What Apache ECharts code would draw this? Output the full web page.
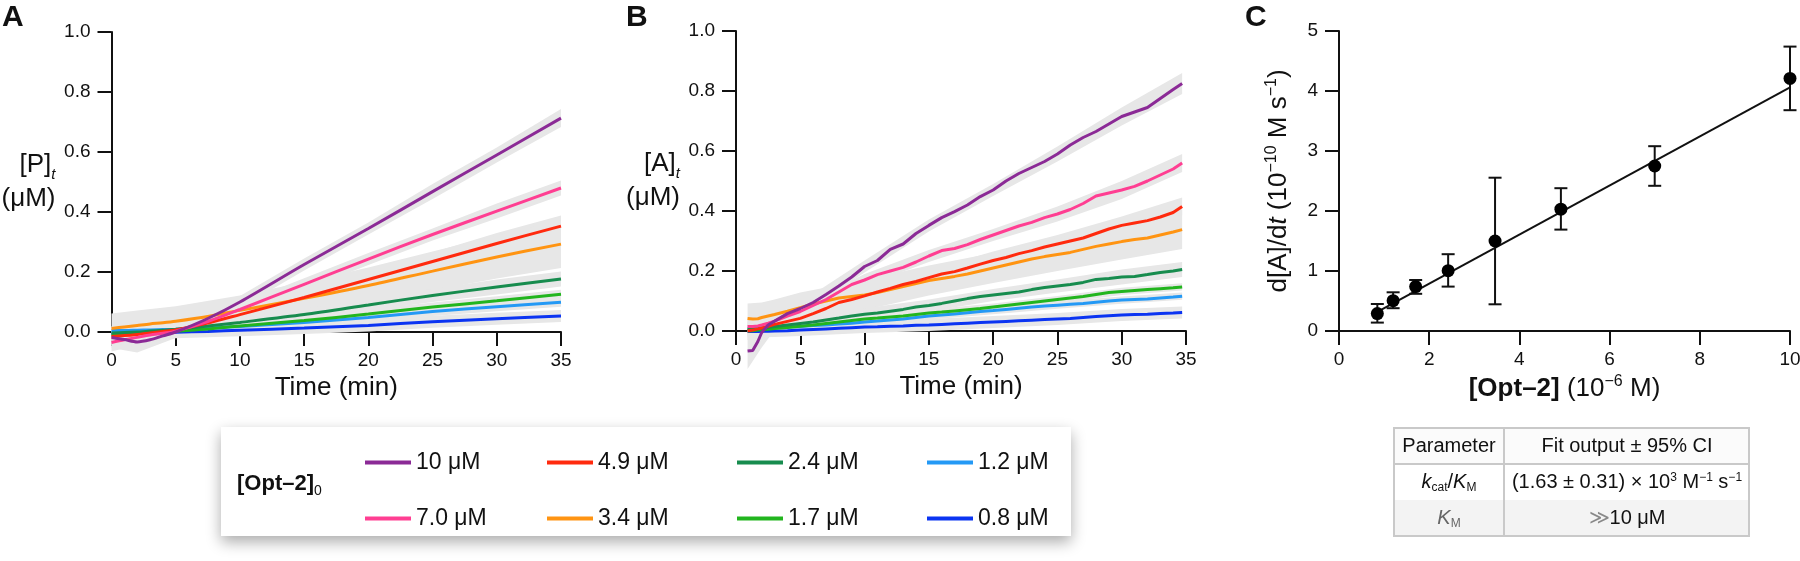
<!DOCTYPE html>
<html><head><meta charset="utf-8">
<script src="https://cdn.jsdelivr.net/npm/echarts@6/dist/echarts.min.js"></script>
<style>html,body{margin:0;padding:0;background:#fff}#c{width:1800px;height:561px}</style>
</head><body><div id="c"></div>
<script>
// ---------- categories / legend ----------
const seriesNames  = ['10 μM','7.0 μM','4.9 μM','3.4 μM','2.4 μM','1.7 μM','1.2 μM','0.8 μM'];
const seriesColors = ['#8B2A96','#FF3E92','#FF2A0E','#FF9412','#178C4E','#22B51E','#2499F5','#0B34F2'];

// ---------- Panel A: [P]t vs time ----------
const tA = [0,1,2,3,4,5,7.5,10,15,20,25,30,35];
const A_10  = [-0.018,-0.025,-0.033,-0.026,-0.013,0.0,0.045,0.10,0.225,0.345,0.468,0.59,0.713];
const A_7_0 = [-0.035,-0.026,-0.018,-0.01,-0.004,0.003,0.035,0.075,0.159,0.243,0.325,0.403,0.48];
const A_4_9 = [-0.015,-0.012,-0.008,-0.003,0.002,0.007,0.03,0.058,0.115,0.175,0.235,0.295,0.353];
const A_3_4 = [0.012,0.017,0.022,0.027,0.031,0.036,0.052,0.072,0.112,0.155,0.203,0.25,0.293];
const A_2_4 = [-0.003,-0.002,0.0,0.003,0.006,0.009,0.02,0.032,0.058,0.09,0.122,0.15,0.177];
const A_1_7 = [-0.01,-0.008,-0.005,-0.002,0.0,0.003,0.01,0.02,0.038,0.06,0.083,0.104,0.126];
const A_1_2 = [0.005,0.005,0.006,0.007,0.008,0.009,0.013,0.018,0.032,0.048,0.068,0.084,0.099];
const A_0_8 = [-0.004,-0.004,-0.003,-0.003,-0.002,-0.001,0.002,0.006,0.013,0.022,0.034,0.044,0.053];
// confidence band half-widths (at band times)
const tA_band = [0,2,5,10,15,20,25,30,35];
const A_ci_10  = [0.035,0.035,0.02,0.02,0.02,0.02,0.025,0.025,0.03];
const A_ci_7_0 = [0.03,0.025,0.02,0.02,0.02,0.02,0.02,0.025,0.025];
const A_ci_4_9 = [0.03,0.03,0.025,0.025,0.025,0.03,0.03,0.035,0.035];
const A_ci_3_4 = [0.05,0.05,0.05,0.05,0.055,0.06,0.065,0.072,0.08];
const A_ci_2_4 = [0.02,0.02,0.02,0.02,0.02,0.02,0.022,0.025,0.025];
const A_ci_1_7 = [0.015,0.015,0.015,0.015,0.015,0.015,0.015,0.015,0.015];
const A_ci_1_2 = [0.015,0.015,0.015,0.015,0.015,0.015,0.015,0.015,0.015];
const A_ci_0_8 = [0.02,0.02,0.02,0.02,0.02,0.02,0.02,0.02,0.02];

// ---------- Panel B: [A]t vs time ----------
const tB = [0.9,1.3,1.7,2,2.5,3,4,5,6,7,8,9,10,11,12,13,14,15,16,17,18,19,20,21,22,23,24,25,26,27,28,29,30,31,32,33,34,34.7];
const B_10  = [-0.067,-0.065,-0.035,-0.005,0.02,0.033,0.058,0.075,0.095,0.122,0.15,0.18,0.215,0.235,0.272,0.29,0.325,0.352,0.378,0.398,0.42,0.448,0.47,0.5,0.525,0.545,0.565,0.59,0.62,0.645,0.665,0.69,0.715,0.73,0.745,0.775,0.805,0.825];
const B_7_0 = [0.015,0.015,0.017,0.02,0.026,0.033,0.05,0.065,0.085,0.105,0.13,0.155,0.17,0.188,0.2,0.212,0.23,0.25,0.268,0.275,0.288,0.305,0.32,0.335,0.35,0.362,0.378,0.39,0.405,0.425,0.45,0.46,0.47,0.482,0.5,0.52,0.54,0.56];
const B_4_9 = [0.0,0.003,0.007,0.01,0.016,0.022,0.032,0.042,0.058,0.075,0.095,0.105,0.117,0.13,0.142,0.155,0.165,0.178,0.19,0.198,0.21,0.223,0.235,0.245,0.258,0.268,0.28,0.29,0.3,0.31,0.325,0.34,0.352,0.36,0.368,0.38,0.395,0.415];
const B_3_4 = [0.042,0.04,0.041,0.045,0.05,0.055,0.066,0.078,0.09,0.1,0.11,0.115,0.12,0.128,0.138,0.148,0.158,0.168,0.175,0.182,0.19,0.2,0.21,0.22,0.23,0.24,0.248,0.255,0.262,0.272,0.282,0.29,0.298,0.305,0.31,0.32,0.33,0.338];
const B_2_4 = [0.005,0.006,0.008,0.01,0.012,0.015,0.02,0.025,0.03,0.037,0.043,0.05,0.056,0.06,0.066,0.072,0.08,0.085,0.092,0.1,0.108,0.115,0.12,0.125,0.13,0.138,0.145,0.15,0.155,0.162,0.172,0.175,0.18,0.182,0.188,0.195,0.2,0.205];
const B_1_7 = [0.0,0.001,0.003,0.004,0.006,0.008,0.012,0.016,0.02,0.025,0.03,0.035,0.04,0.043,0.047,0.05,0.055,0.06,0.063,0.067,0.071,0.075,0.08,0.085,0.09,0.095,0.1,0.105,0.11,0.115,0.122,0.128,0.132,0.135,0.138,0.141,0.144,0.147];
const B_1_2 = [0.008,0.008,0.008,0.009,0.01,0.011,0.013,0.015,0.018,0.02,0.023,0.026,0.03,0.033,0.037,0.04,0.045,0.05,0.053,0.057,0.061,0.065,0.068,0.072,0.076,0.08,0.083,0.086,0.089,0.092,0.096,0.1,0.103,0.105,0.107,0.11,0.113,0.116];
const B_0_8 = [-0.002,-0.002,-0.002,-0.001,-0.001,0.0,0.001,0.003,0.005,0.007,0.009,0.011,0.013,0.014,0.016,0.017,0.019,0.02,0.022,0.024,0.026,0.028,0.03,0.032,0.034,0.036,0.038,0.04,0.042,0.045,0.048,0.051,0.053,0.055,0.056,0.058,0.06,0.062];
const tB_band = [0.9,2,3,5,10,15,20,25,30,34.7];
const B_ci_10  = [0.06,0.05,0.03,0.02,0.02,0.02,0.02,0.025,0.03,0.035];
const B_ci_7_0 = [0.03,0.025,0.02,0.02,0.02,0.02,0.02,0.025,0.03,0.03];
const B_ci_4_9 = [0.03,0.03,0.025,0.025,0.025,0.025,0.03,0.03,0.03,0.03];
const B_ci_3_4 = [0.05,0.05,0.05,0.05,0.05,0.05,0.05,0.055,0.06,0.065];
const B_ci_2_4 = [0.02,0.02,0.02,0.02,0.02,0.02,0.02,0.022,0.025,0.025];
const B_ci_1_7 = [0.012,0.012,0.012,0.012,0.012,0.012,0.012,0.012,0.012,0.012];
const B_ci_1_2 = [0.012,0.012,0.012,0.012,0.012,0.012,0.012,0.012,0.012,0.012];
const B_ci_0_8 = [0.02,0.02,0.02,0.02,0.02,0.02,0.02,0.02,0.02,0.02];

// ---------- Panel C: rate vs [Opt-2] ----------
const C_x  = [0.85,1.2,1.7,2.42,3.46,4.92,7.0,10.0];
const C_y  = [0.29,0.505,0.74,1.005,1.5,2.03,2.75,4.21];
const C_lo = [0.14,0.38,0.62,0.74,0.445,1.69,2.42,3.68];
const C_hi = [0.45,0.645,0.85,1.28,2.555,2.38,3.08,4.74];
const fitX = [0.85,10.0];
const fitY = [0.32,4.06];

// ---------- styling ----------
const FONT = "'Liberation Sans', Arial, Helvetica, sans-serif";
const INK = '#111';
const BAND = '#e7e7e7';

const A_vals = [A_10,A_7_0,A_4_9,A_3_4,A_2_4,A_1_7,A_1_2,A_0_8];
const A_ci = [A_ci_10,A_ci_7_0,A_ci_4_9,A_ci_3_4,A_ci_2_4,A_ci_1_7,A_ci_1_2,A_ci_0_8];
const B_vals = [B_10,B_7_0,B_4_9,B_3_4,B_2_4,B_1_7,B_1_2,B_0_8];
const B_ci = [B_ci_10,B_ci_7_0,B_ci_4_9,B_ci_3_4,B_ci_2_4,B_ci_1_7,B_ci_1_2,B_ci_0_8];

function panelSeries(prefix, idx, times, vals, bandT, ci, smooth) {
  const out = [];
  // confidence bands: one polygon per concentration, drawn through the axis scales
  out.push({
    type:'custom', name: prefix+'band', xAxisIndex: idx, yAxisIndex: idx, z:1, silent:true, clip:false,
    data: vals.map((v,k)=>[bandT[0], v[times.indexOf(bandT[0])], k]),
    encode:{x:0, y:1},
    renderItem:(params, api) => {
      const k = api.value(2);
      const v = vals[k];
      const up = bandT.map((t,j)=>api.coord([t, v[times.indexOf(t)] + ci[k][j]]));
      const dn = bandT.map((t,j)=>api.coord([t, v[times.indexOf(t)] - ci[k][j]])).reverse();
      return {type:'polygon', shape:{points: up.concat(dn)}, style:{fill:BAND}};
    }
  });
  for (let k = vals.length-1; k >= 0; k--) {
    out.push({type:'line', name: seriesNames[k], xAxisIndex: idx, yAxisIndex: idx,
      data: times.map((t,j)=>[t, vals[k][j]]),
      symbol:'none', itemStyle:{color:seriesColors[k]}, lineStyle:{width:3, color:seriesColors[k]},
      clip:false, z:3, smooth});
  }
  return out;
}

const axisLineStyle = {show:true, onZero:true, lineStyle:{color:INK, width:2}};
const tickStyle = {show:true, length:14, lineStyle:{color:INK, width:2}};
const labelX = {margin:19, fontSize:19, color:INK, fontFamily:FONT};
const labelY = {margin:21, fontSize:19, color:INK, fontFamily:FONT};
const nameStyle = {fontSize:26, color:INK, fontFamily:FONT};

function timeXAxis(gi) {
  return {gridIndex:gi, type:'value', min:0, max:35, interval:5,
    axisLine:axisLineStyle, axisTick:tickStyle, axisLabel:labelX, splitLine:{show:false},
    name:'Time (min)', nameLocation:'middle', nameGap:41, nameTextStyle:nameStyle};
}
function concYAxis(gi, sym) {
  return {gridIndex:gi, type:'value', min:0, max:1, interval:0.2,
    axisLine:axisLineStyle, axisTick:tickStyle, splitLine:{show:false},
    axisLabel:Object.assign({formatter:v=>v.toFixed(1)}, labelY),
    name:'['+sym+']{it|t}\n(μM)', nameLocation:'middle', nameRotate:0, nameGap:56,
    nameTextStyle:Object.assign({align:'right', verticalAlign:'middle', lineHeight:34,
      rich:{it:{fontStyle:'italic', fontSize:15, lineHeight:12, verticalAlign:'bottom', fontFamily:FONT, color:INK}}}, nameStyle)};
}

const errorBars = {
  type:'custom', xAxisIndex:2, yAxisIndex:2, z:4, silent:true,
  data: C_x.map((x,i)=>[x, C_lo[i], C_hi[i]]),
  encode:{x:0, y:[1,2]},
  renderItem:(params, api) => {
    const x = api.value(0);
    const p0 = api.coord([x, api.value(1)]);
    const p1 = api.coord([x, api.value(2)]);
    const hw = 6.5, st = {stroke:INK, lineWidth:2};
    return {type:'group', children:[
      {type:'line', shape:{x1:p0[0], y1:p0[1], x2:p1[0], y2:p1[1]}, style:st},
      {type:'line', shape:{x1:p0[0]-hw, y1:p0[1], x2:p0[0]+hw, y2:p0[1]}, style:st},
      {type:'line', shape:{x1:p1[0]-hw, y1:p1[1], x2:p1[0]+hw, y2:p1[1]}, style:st}
    ]};
  }
};

const legendCols = [[0,2,4,6],[1,3,5,7]]; // rows
const legendLeft = [360, 542, 732, 922];
const legends = [0,1,2,3].map(c => ({
  left: legendLeft[c], top: 446, orient:'vertical', itemGap:33, itemWidth:46, itemHeight:4, itemTextGap:11,
  icon:'rect', itemStyle:{borderWidth:0}, lineStyle:{width:0},
  selectedMode:false, data:[seriesNames[legendCols[0][c]], seriesNames[legendCols[1][c]]],
  textStyle:{fontSize:23, color:INK, fontFamily:FONT, lineHeight:22}
}));

function txt(x, y, text, opts) {
  return {type:'text', x, y, z:10, style:Object.assign({text, fontFamily:FONT, fill:INK, fontSize:20,
    align:'center', verticalAlign:'middle', textAlign:'center', textVerticalAlign:'middle'}, opts||{})};
}
const subRich = {
  it:{fontStyle:'italic', fontSize:20, fontFamily:FONT, lineHeight:24, verticalAlign:'middle'},
  sub:{fontSize:12, fontFamily:FONT, lineHeight:10, verticalAlign:'bottom'},
  sup:{fontSize:12, fontFamily:FONT, lineHeight:12, verticalAlign:'top'},
  g:{fill:'#888', color:'#888', fontSize:20, fontFamily:FONT, lineHeight:24}
};

const TX = 1394, TY = 428, TW = 355, RH = 36, COLX = 1504;
const graphic = [
  // panel letters
  txt(2, 18, 'A', {fontSize:30, fontWeight:'bold', align:'left', textAlign:'left'}),
  txt(626, 18, 'B', {fontSize:30, fontWeight:'bold', align:'left', textAlign:'left'}),
  txt(1245, 18, 'C', {fontSize:30, fontWeight:'bold', align:'left', textAlign:'left'}),
  // legend box
  {type:'rect', z:-1, shape:{x:221, y:427, width:850, height:109},
    style:{fill:'#fff', shadowBlur:14, shadowOffsetY:6, shadowColor:'rgba(0,0,0,0.33)'}},
  txt(237, 484, '{b|[Opt–2]}{s|0}', {align:'left', textAlign:'left', fontSize:22,
    rich:{b:{fontWeight:'bold', fontSize:22, fontFamily:FONT, lineHeight:28, verticalAlign:'middle'},
          s:{fontSize:14, fontFamily:FONT, lineHeight:12, verticalAlign:'bottom'}}}),
  // table
  {type:'rect', z:5, shape:{x:TX, y:TY, width:TW, height:RH}, style:{fill:'#fbfbfb'}},
  {type:'rect', z:5, shape:{x:TX, y:TY+2*RH, width:TW, height:RH}, style:{fill:'#f3f3f3'}},
  {type:'line', z:6, shape:{x1:COLX, y1:TY, x2:COLX, y2:TY+3*RH}, style:{stroke:'#c9c9c9', lineWidth:2}},
  {type:'line', z:6, shape:{x1:TX, y1:TY+RH, x2:TX+TW, y2:TY+RH}, style:{stroke:'#c9c9c9', lineWidth:2}},
  {type:'rect', z:6, shape:{x:TX, y:TY, width:TW, height:3*RH}, style:{fill:'none', stroke:'#c9c9c9', lineWidth:2}},
  txt(1449, TY+RH/2, 'Parameter'),
  txt(1627, TY+RH/2, 'Fit output ± 95% CI'),
  txt(1449, TY+1.5*RH, '{it|k}{sub|cat}/{it|K}{sub|M}', {rich:subRich}),
  txt(1627, TY+1.5*RH, '(1.63 ± 0.31) × 10{sup|3} M{sup|−1} s{sup|−1}', {rich:subRich}),
  txt(1449, TY+2.5*RH, '{it|K}{sub|M}', {fill:'#666', rich:{
    it:{fontStyle:'italic', fontSize:20, fontFamily:FONT, lineHeight:24, fill:'#666', color:'#666'},
    sub:{fontSize:12, fontFamily:FONT, lineHeight:10, verticalAlign:'bottom', fill:'#666', color:'#666'}}}),
  txt(1627, TY+2.5*RH, '{g|≫}10 μM', {rich:subRich})
];

const option = {
  animation:false,
  backgroundColor:'#fff',
  textStyle:{fontFamily:FONT},
  grid:[
    {left:111.5, top:32, width:449.5, height:300, outerBoundsMode:'none'},
    {left:736, top:31, width:450, height:300, outerBoundsMode:'none'},
    {left:1339, top:31, width:451, height:300, outerBoundsMode:'none'}
  ],
  xAxis:[
    timeXAxis(0), timeXAxis(1),
    {gridIndex:2, type:'value', min:0, max:10, interval:2, axisLine:axisLineStyle, axisTick:tickStyle,
     axisLabel:labelX, splitLine:{show:false},
     name:'{b|[Opt–2]} (10{sup|−6} M)', nameLocation:'middle', nameGap:40,
     nameTextStyle:Object.assign({lineHeight:30, rich:{
       b:{fontWeight:'bold', fontSize:26, fontFamily:FONT, lineHeight:30, color:INK},
       sup:{fontSize:16, fontFamily:FONT, lineHeight:14, verticalAlign:'top', color:INK}}}, nameStyle)}
  ],
  yAxis:[
    concYAxis(0,'P'), concYAxis(1,'A'),
    {gridIndex:2, type:'value', min:0, max:5, interval:1, axisLine:axisLineStyle, axisTick:tickStyle,
     axisLabel:labelY, splitLine:{show:false},
     name:'d[A]/d{it|t} (10{sup|−10} M s{sup|−1})', nameLocation:'middle', nameGap:45,
     nameTextStyle:Object.assign({lineHeight:30, rich:{
       it:{fontStyle:'italic', fontSize:26, fontFamily:FONT, lineHeight:30, color:INK},
       sup:{fontSize:16, fontFamily:FONT, lineHeight:14, verticalAlign:'top', color:INK}}}, nameStyle)}
  ],
  legend: legends,
  graphic: graphic,
  series: [].concat(
    panelSeries('A', 0, tA, A_vals, tA_band, A_ci, 0.3),
    panelSeries('B', 1, tB, B_vals, tB_band, B_ci, false),
    [
      {type:'line', name:'fit', xAxisIndex:2, yAxisIndex:2, data: fitX.map((x,i)=>[x, fitY[i]]),
       symbol:'none', lineStyle:{color:INK, width:2}, z:3, silent:true},
      errorBars,
      {type:'scatter', name:'rate', xAxisIndex:2, yAxisIndex:2, data: C_x.map((x,i)=>[x, C_y[i]]),
       symbol:'circle', symbolSize:13, itemStyle:{color:'#000', opacity:1}, z:5, silent:true}
    ]
  )
};

const chart = echarts.init(document.getElementById('c'), null, {renderer:'canvas'});
chart.setOption(option);
</script>
</body></html>
